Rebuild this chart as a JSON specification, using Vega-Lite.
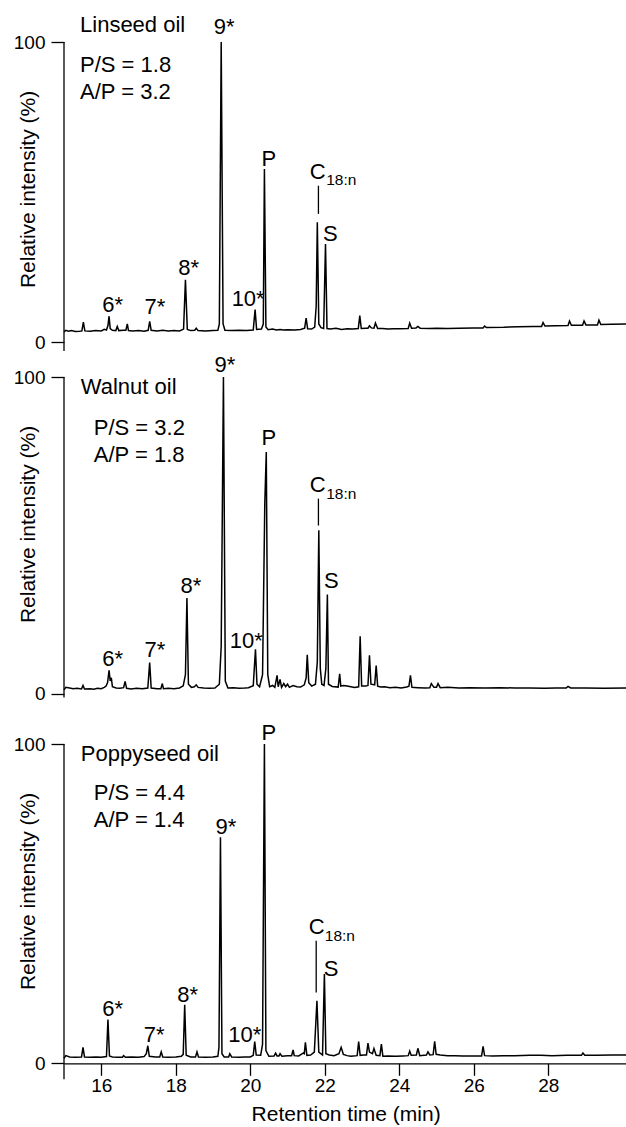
{
  "$schema": "https://vega.github.io/schema/vega-lite/v6.json",
  "padding": {"left": 13, "top": 14, "right": 0, "bottom": 3},
  "background": "white",
  "bounds": "flush",
  "spacing": 35,
  "config": {
    "font": "Liberation Sans",
    "view": {"stroke": null},
    "axis": {
      "domainColor": "black", "tickColor": "black", "labelColor": "black", "titleColor": "black",
      "grid": false, "labelFontSize": 19, "titleFontSize": 21, "titleFontWeight": "normal",
      "tickWidth": 1.3, "domainWidth": 1.3
    },
    "text": {"color": "black"}
  },
  "resolve": {"scale": {"y": "independent"}},
  "datasets": {
    "trace": [
      {"oil":"Linseed","t":15.00,"v":3.4},{"oil":"Linseed","t":15.05,"v":3.9},{"oil":"Linseed","t":15.12,"v":3.6},{"oil":"Linseed","t":15.2,"v":3.8},{"oil":"Linseed","t":15.3,"v":3.5},{"oil":"Linseed","t":15.42,"v":3.6},{"oil":"Linseed","t":15.48,"v":3.7},{"oil":"Linseed","t":15.52,"v":6.6},{"oil":"Linseed","t":15.56,"v":3.7},{"oil":"Linseed","t":15.7,"v":3.6},{"oil":"Linseed","t":15.85,"v":3.8},{"oil":"Linseed","t":16.0,"v":3.7},{"oil":"Linseed","t":16.08,"v":4.2},{"oil":"Linseed","t":16.14,"v":4.0},{"oil":"Linseed","t":16.18,"v":5.5},{"oil":"Linseed","t":16.21,"v":8.6},{"oil":"Linseed","t":16.24,"v":4.5},{"oil":"Linseed","t":16.3,"v":3.9},{"oil":"Linseed","t":16.39,"v":3.8},{"oil":"Linseed","t":16.43,"v":5.2},{"oil":"Linseed","t":16.47,"v":3.8},{"oil":"Linseed","t":16.6,"v":3.9},{"oil":"Linseed","t":16.66,"v":3.9},{"oil":"Linseed","t":16.70,"v":6.0},{"oil":"Linseed","t":16.73,"v":3.8},{"oil":"Linseed","t":16.85,"v":3.7},{"oil":"Linseed","t":17.0,"v":3.8},{"oil":"Linseed","t":17.15,"v":3.6},{"oil":"Linseed","t":17.26,"v":3.9},{"oil":"Linseed","t":17.30,"v":6.9},{"oil":"Linseed","t":17.34,"v":3.9},{"oil":"Linseed","t":17.5,"v":3.7},{"oil":"Linseed","t":17.65,"v":3.9},{"oil":"Linseed","t":17.8,"v":3.7},{"oil":"Linseed","t":17.95,"v":3.8},{"oil":"Linseed","t":18.1,"v":3.7},{"oil":"Linseed","t":18.21,"v":4.3},{"oil":"Linseed","t":18.26,"v":20.7},{"oil":"Linseed","t":18.31,"v":4.2},{"oil":"Linseed","t":18.4,"v":3.8},{"oil":"Linseed","t":18.51,"v":3.9},{"oil":"Linseed","t":18.55,"v":4.6},{"oil":"Linseed","t":18.6,"v":3.8},{"oil":"Linseed","t":18.8,"v":3.7},{"oil":"Linseed","t":19.0,"v":3.8},{"oil":"Linseed","t":19.13,"v":3.9},{"oil":"Linseed","t":19.17,"v":6.0},{"oil":"Linseed","t":19.22,"v":100},{"oil":"Linseed","t":19.27,"v":6.0},{"oil":"Linseed","t":19.32,"v":3.9},{"oil":"Linseed","t":19.5,"v":3.8},{"oil":"Linseed","t":19.7,"v":3.9},{"oil":"Linseed","t":19.9,"v":3.8},{"oil":"Linseed","t":20.08,"v":4.0},{"oil":"Linseed","t":20.13,"v":10.8},{"oil":"Linseed","t":20.17,"v":4.2},{"oil":"Linseed","t":20.3,"v":4.3},{"oil":"Linseed","t":20.35,"v":6.0},{"oil":"Linseed","t":20.38,"v":57.7},{"oil":"Linseed","t":20.42,"v":5.0},{"oil":"Linseed","t":20.48,"v":4.1},{"oil":"Linseed","t":20.6,"v":4.3},{"oil":"Linseed","t":20.7,"v":4.0},{"oil":"Linseed","t":20.8,"v":4.2},{"oil":"Linseed","t":20.9,"v":4.0},{"oil":"Linseed","t":21.0,"v":4.1},{"oil":"Linseed","t":21.2,"v":4.0},{"oil":"Linseed","t":21.35,"v":4.2},{"oil":"Linseed","t":21.46,"v":4.6},{"oil":"Linseed","t":21.50,"v":8.0},{"oil":"Linseed","t":21.54,"v":4.4},{"oil":"Linseed","t":21.65,"v":4.3},{"oil":"Linseed","t":21.73,"v":5.0},{"oil":"Linseed","t":21.77,"v":12.0},{"oil":"Linseed","t":21.80,"v":39.9},{"oil":"Linseed","t":21.84,"v":6.0},{"oil":"Linseed","t":21.9,"v":4.8},{"oil":"Linseed","t":21.97,"v":4.5},{"oil":"Linseed","t":22.02,"v":32.7},{"oil":"Linseed","t":22.06,"v":4.5},{"oil":"Linseed","t":22.15,"v":4.3},{"oil":"Linseed","t":22.3,"v":4.6},{"oil":"Linseed","t":22.45,"v":4.2},{"oil":"Linseed","t":22.6,"v":4.4},{"oil":"Linseed","t":22.75,"v":4.3},{"oil":"Linseed","t":22.9,"v":4.5},{"oil":"Linseed","t":22.94,"v":8.8},{"oil":"Linseed","t":22.98,"v":4.5},{"oil":"Linseed","t":23.1,"v":4.6},{"oil":"Linseed","t":23.16,"v":4.6},{"oil":"Linseed","t":23.2,"v":5.4},{"oil":"Linseed","t":23.25,"v":4.7},{"oil":"Linseed","t":23.32,"v":4.6},{"oil":"Linseed","t":23.36,"v":6.3},{"oil":"Linseed","t":23.42,"v":4.5},{"oil":"Linseed","t":23.55,"v":4.5},{"oil":"Linseed","t":23.7,"v":4.3},{"oil":"Linseed","t":23.85,"v":4.4},{"oil":"Linseed","t":24.0,"v":4.4},{"oil":"Linseed","t":24.24,"v":4.5},{"oil":"Linseed","t":24.28,"v":6.3},{"oil":"Linseed","t":24.33,"v":4.6},{"oil":"Linseed","t":24.45,"v":4.7},{"oil":"Linseed","t":24.5,"v":5.2},{"oil":"Linseed","t":24.56,"v":4.6},{"oil":"Linseed","t":24.8,"v":4.5},{"oil":"Linseed","t":25.0,"v":4.6},{"oil":"Linseed","t":25.3,"v":4.5},{"oil":"Linseed","t":25.6,"v":4.6},{"oil":"Linseed","t":26.0,"v":4.7},{"oil":"Linseed","t":26.25,"v":4.7},{"oil":"Linseed","t":26.29,"v":5.3},{"oil":"Linseed","t":26.34,"v":4.8},{"oil":"Linseed","t":26.8,"v":4.9},{"oil":"Linseed","t":27.2,"v":5.1},{"oil":"Linseed","t":27.6,"v":5.2},{"oil":"Linseed","t":27.82,"v":5.2},{"oil":"Linseed","t":27.86,"v":6.5},{"oil":"Linseed","t":27.91,"v":5.3},{"oil":"Linseed","t":28.2,"v":5.4},{"oil":"Linseed","t":28.53,"v":5.5},{"oil":"Linseed","t":28.57,"v":7.0},{"oil":"Linseed","t":28.62,"v":5.6},{"oil":"Linseed","t":28.92,"v":5.6},{"oil":"Linseed","t":28.96,"v":7.0},{"oil":"Linseed","t":29.01,"v":5.7},{"oil":"Linseed","t":29.32,"v":5.7},{"oil":"Linseed","t":29.36,"v":7.3},{"oil":"Linseed","t":29.41,"v":5.8},{"oil":"Linseed","t":29.7,"v":5.9},{"oil":"Linseed","t":30.12,"v":6.0},

      {"oil":"Walnut","t":15.0,"v":1.2},{"oil":"Walnut","t":15.05,"v":2.0},{"oil":"Walnut","t":15.15,"v":1.8},{"oil":"Walnut","t":15.25,"v":1.6},{"oil":"Walnut","t":15.35,"v":1.7},{"oil":"Walnut","t":15.47,"v":1.5},{"oil":"Walnut","t":15.51,"v":2.6},{"oil":"Walnut","t":15.55,"v":1.5},{"oil":"Walnut","t":15.7,"v":1.6},{"oil":"Walnut","t":15.8,"v":1.4},{"oil":"Walnut","t":15.9,"v":1.7},{"oil":"Walnut","t":16.0,"v":1.6},{"oil":"Walnut","t":16.08,"v":2.0},{"oil":"Walnut","t":16.13,"v":2.4},{"oil":"Walnut","t":16.17,"v":3.5},{"oil":"Walnut","t":16.21,"v":7.4},{"oil":"Walnut","t":16.24,"v":4.0},{"oil":"Walnut","t":16.27,"v":5.0},{"oil":"Walnut","t":16.3,"v":2.2},{"oil":"Walnut","t":16.4,"v":1.8},{"oil":"Walnut","t":16.5,"v":1.7},{"oil":"Walnut","t":16.6,"v":1.9},{"oil":"Walnut","t":16.64,"v":3.9},{"oil":"Walnut","t":16.68,"v":1.7},{"oil":"Walnut","t":16.8,"v":1.5},{"oil":"Walnut","t":16.95,"v":1.7},{"oil":"Walnut","t":17.1,"v":1.6},{"oil":"Walnut","t":17.25,"v":1.8},{"oil":"Walnut","t":17.30,"v":9.8},{"oil":"Walnut","t":17.34,"v":1.8},{"oil":"Walnut","t":17.5,"v":1.6},{"oil":"Walnut","t":17.6,"v":1.6},{"oil":"Walnut","t":17.64,"v":3.2},{"oil":"Walnut","t":17.67,"v":1.6},{"oil":"Walnut","t":17.8,"v":1.7},{"oil":"Walnut","t":17.95,"v":1.6},{"oil":"Walnut","t":18.1,"v":1.8},{"oil":"Walnut","t":18.2,"v":2.5},{"oil":"Walnut","t":18.26,"v":6.0},{"oil":"Walnut","t":18.30,"v":30.2},{"oil":"Walnut","t":18.34,"v":3.0},{"oil":"Walnut","t":18.42,"v":2.0},{"oil":"Walnut","t":18.5,"v":2.2},{"oil":"Walnut","t":18.55,"v":2.8},{"oil":"Walnut","t":18.6,"v":2.0},{"oil":"Walnut","t":18.75,"v":1.8},{"oil":"Walnut","t":18.9,"v":1.7},{"oil":"Walnut","t":19.05,"v":1.8},{"oil":"Walnut","t":19.17,"v":3.0},{"oil":"Walnut","t":19.22,"v":15.0},{"oil":"Walnut","t":19.28,"v":100},{"oil":"Walnut","t":19.33,"v":4.0},{"oil":"Walnut","t":19.4,"v":1.8},{"oil":"Walnut","t":19.55,"v":1.9},{"oil":"Walnut","t":19.7,"v":1.7},{"oil":"Walnut","t":19.85,"v":1.8},{"oil":"Walnut","t":19.95,"v":1.9},{"oil":"Walnut","t":20.08,"v":2.5},{"oil":"Walnut","t":20.14,"v":14.0},{"oil":"Walnut","t":20.18,"v":3.0},{"oil":"Walnut","t":20.25,"v":2.2},{"oil":"Walnut","t":20.33,"v":6.0},{"oil":"Walnut","t":20.39,"v":60.0},{"oil":"Walnut","t":20.43,"v":76.3},{"oil":"Walnut","t":20.47,"v":6.0},{"oil":"Walnut","t":20.52,"v":2.2},{"oil":"Walnut","t":20.6,"v":2.6},{"oil":"Walnut","t":20.66,"v":2.0},{"oil":"Walnut","t":20.72,"v":5.8},{"oil":"Walnut","t":20.75,"v":2.2},{"oil":"Walnut","t":20.8,"v":4.5},{"oil":"Walnut","t":20.84,"v":2.0},{"oil":"Walnut","t":20.9,"v":3.2},{"oil":"Walnut","t":20.95,"v":2.2},{"oil":"Walnut","t":21.0,"v":3.0},{"oil":"Walnut","t":21.05,"v":2.0},{"oil":"Walnut","t":21.15,"v":2.6},{"oil":"Walnut","t":21.25,"v":2.2},{"oil":"Walnut","t":21.35,"v":2.1},{"oil":"Walnut","t":21.45,"v":2.8},{"oil":"Walnut","t":21.5,"v":5.0},{"oil":"Walnut","t":21.53,"v":12.3},{"oil":"Walnut","t":21.57,"v":3.5},{"oil":"Walnut","t":21.65,"v":2.4},{"oil":"Walnut","t":21.75,"v":3.0},{"oil":"Walnut","t":21.8,"v":10.0},{"oil":"Walnut","t":21.84,"v":51.6},{"oil":"Walnut","t":21.88,"v":8.0},{"oil":"Walnut","t":21.92,"v":3.0},{"oil":"Walnut","t":21.98,"v":2.6},{"oil":"Walnut","t":22.03,"v":8.0},{"oil":"Walnut","t":22.07,"v":31.3},{"oil":"Walnut","t":22.1,"v":3.0},{"oil":"Walnut","t":22.2,"v":2.3},{"oil":"Walnut","t":22.36,"v":2.1},{"oil":"Walnut","t":22.40,"v":6.3},{"oil":"Walnut","t":22.43,"v":2.4},{"oil":"Walnut","t":22.5,"v":2.6},{"oil":"Walnut","t":22.6,"v":2.4},{"oil":"Walnut","t":22.7,"v":2.2},{"oil":"Walnut","t":22.8,"v":2.0},{"oil":"Walnut","t":22.91,"v":2.2},{"oil":"Walnut","t":22.95,"v":18.1},{"oil":"Walnut","t":22.99,"v":2.4},{"oil":"Walnut","t":23.1,"v":2.4},{"oil":"Walnut","t":23.16,"v":2.6},{"oil":"Walnut","t":23.2,"v":12.1},{"oil":"Walnut","t":23.24,"v":3.0},{"oil":"Walnut","t":23.34,"v":2.8},{"oil":"Walnut","t":23.38,"v":8.9},{"oil":"Walnut","t":23.42,"v":2.4},{"oil":"Walnut","t":23.5,"v":2.1},{"oil":"Walnut","t":23.6,"v":2.2},{"oil":"Walnut","t":23.75,"v":1.9},{"oil":"Walnut","t":23.9,"v":2.0},{"oil":"Walnut","t":24.05,"v":1.8},{"oil":"Walnut","t":24.2,"v":2.1},{"oil":"Walnut","t":24.26,"v":2.4},{"oil":"Walnut","t":24.30,"v":5.8},{"oil":"Walnut","t":24.34,"v":2.0},{"oil":"Walnut","t":24.5,"v":1.9},{"oil":"Walnut","t":24.7,"v":1.8},{"oil":"Walnut","t":24.82,"v":1.9},{"oil":"Walnut","t":24.86,"v":3.2},{"oil":"Walnut","t":24.93,"v":2.0},{"oil":"Walnut","t":25.0,"v":2.0},{"oil":"Walnut","t":25.04,"v":3.2},{"oil":"Walnut","t":25.1,"v":1.9},{"oil":"Walnut","t":25.3,"v":2.0},{"oil":"Walnut","t":25.6,"v":1.8},{"oil":"Walnut","t":25.9,"v":1.9},{"oil":"Walnut","t":26.3,"v":1.8},{"oil":"Walnut","t":26.7,"v":1.9},{"oil":"Walnut","t":27.1,"v":1.8},{"oil":"Walnut","t":27.5,"v":1.8},{"oil":"Walnut","t":27.9,"v":1.7},{"oil":"Walnut","t":28.2,"v":1.8},{"oil":"Walnut","t":28.48,"v":1.8},{"oil":"Walnut","t":28.53,"v":2.3},{"oil":"Walnut","t":28.6,"v":1.8},{"oil":"Walnut","t":29.0,"v":1.8},{"oil":"Walnut","t":29.5,"v":1.7},{"oil":"Walnut","t":30.12,"v":1.8},

      {"oil":"Poppyseed","t":15.0,"v":1.6},{"oil":"Poppyseed","t":15.05,"v":2.4},{"oil":"Poppyseed","t":15.15,"v":2.0},{"oil":"Poppyseed","t":15.3,"v":1.9},{"oil":"Poppyseed","t":15.47,"v":2.0},{"oil":"Poppyseed","t":15.51,"v":5.0},{"oil":"Poppyseed","t":15.55,"v":2.0},{"oil":"Poppyseed","t":15.7,"v":1.9},{"oil":"Poppyseed","t":15.85,"v":2.0},{"oil":"Poppyseed","t":16.0,"v":1.9},{"oil":"Poppyseed","t":16.14,"v":2.1},{"oil":"Poppyseed","t":16.18,"v":13.7},{"oil":"Poppyseed","t":16.22,"v":2.3},{"oil":"Poppyseed","t":16.3,"v":2.0},{"oil":"Poppyseed","t":16.45,"v":1.9},{"oil":"Poppyseed","t":16.57,"v":1.9},{"oil":"Poppyseed","t":16.6,"v":2.4},{"oil":"Poppyseed","t":16.65,"v":1.9},{"oil":"Poppyseed","t":16.8,"v":2.0},{"oil":"Poppyseed","t":17.0,"v":1.9},{"oil":"Poppyseed","t":17.15,"v":2.1},{"oil":"Poppyseed","t":17.21,"v":3.0},{"oil":"Poppyseed","t":17.25,"v":5.5},{"oil":"Poppyseed","t":17.29,"v":2.2},{"oil":"Poppyseed","t":17.45,"v":2.0},{"oil":"Poppyseed","t":17.57,"v":2.0},{"oil":"Poppyseed","t":17.61,"v":3.6},{"oil":"Poppyseed","t":17.65,"v":2.0},{"oil":"Poppyseed","t":17.8,"v":1.9},{"oil":"Poppyseed","t":18.0,"v":2.0},{"oil":"Poppyseed","t":18.15,"v":2.2},{"oil":"Poppyseed","t":18.2,"v":2.8},{"oil":"Poppyseed","t":18.24,"v":18.3},{"oil":"Poppyseed","t":18.28,"v":2.5},{"oil":"Poppyseed","t":18.4,"v":2.0},{"oil":"Poppyseed","t":18.53,"v":2.0},{"oil":"Poppyseed","t":18.57,"v":3.6},{"oil":"Poppyseed","t":18.61,"v":2.0},{"oil":"Poppyseed","t":18.8,"v":1.9},{"oil":"Poppyseed","t":19.0,"v":2.0},{"oil":"Poppyseed","t":19.13,"v":2.2},{"oil":"Poppyseed","t":19.16,"v":5.0},{"oil":"Poppyseed","t":19.20,"v":70.8},{"oil":"Poppyseed","t":19.24,"v":3.0},{"oil":"Poppyseed","t":19.3,"v":2.0},{"oil":"Poppyseed","t":19.42,"v":2.0},{"oil":"Poppyseed","t":19.45,"v":3.0},{"oil":"Poppyseed","t":19.5,"v":2.0},{"oil":"Poppyseed","t":19.7,"v":1.9},{"oil":"Poppyseed","t":19.85,"v":2.0},{"oil":"Poppyseed","t":20.0,"v":2.0},{"oil":"Poppyseed","t":20.08,"v":2.5},{"oil":"Poppyseed","t":20.12,"v":6.8},{"oil":"Poppyseed","t":20.16,"v":2.6},{"oil":"Poppyseed","t":20.28,"v":2.5},{"oil":"Poppyseed","t":20.33,"v":6.0},{"oil":"Poppyseed","t":20.38,"v":100},{"oil":"Poppyseed","t":20.42,"v":4.0},{"oil":"Poppyseed","t":20.5,"v":2.2},{"oil":"Poppyseed","t":20.64,"v":2.3},{"oil":"Poppyseed","t":20.68,"v":3.2},{"oil":"Poppyseed","t":20.72,"v":2.3},{"oil":"Poppyseed","t":20.77,"v":2.3},{"oil":"Poppyseed","t":20.8,"v":3.0},{"oil":"Poppyseed","t":20.85,"v":2.2},{"oil":"Poppyseed","t":21.0,"v":2.4},{"oil":"Poppyseed","t":21.11,"v":2.4},{"oil":"Poppyseed","t":21.15,"v":4.2},{"oil":"Poppyseed","t":21.18,"v":2.4},{"oil":"Poppyseed","t":21.3,"v":2.3},{"oil":"Poppyseed","t":21.42,"v":3.2},{"oil":"Poppyseed","t":21.45,"v":3.0},{"oil":"Poppyseed","t":21.48,"v":6.6},{"oil":"Poppyseed","t":21.52,"v":2.5},{"oil":"Poppyseed","t":21.62,"v":2.6},{"oil":"Poppyseed","t":21.72,"v":3.5},{"oil":"Poppyseed","t":21.79,"v":19.6},{"oil":"Poppyseed","t":21.84,"v":3.5},{"oil":"Poppyseed","t":21.94,"v":2.6},{"oil":"Poppyseed","t":21.99,"v":28.0},{"oil":"Poppyseed","t":22.03,"v":3.0},{"oil":"Poppyseed","t":22.12,"v":2.6},{"oil":"Poppyseed","t":22.25,"v":2.4},{"oil":"Poppyseed","t":22.38,"v":3.0},{"oil":"Poppyseed","t":22.44,"v":5.0},{"oil":"Poppyseed","t":22.5,"v":2.8},{"oil":"Poppyseed","t":22.6,"v":2.4},{"oil":"Poppyseed","t":22.7,"v":2.2},{"oil":"Poppyseed","t":22.87,"v":2.4},{"oil":"Poppyseed","t":22.91,"v":6.8},{"oil":"Poppyseed","t":22.95,"v":2.5},{"oil":"Poppyseed","t":23.05,"v":2.6},{"oil":"Poppyseed","t":23.12,"v":2.6},{"oil":"Poppyseed","t":23.16,"v":6.3},{"oil":"Poppyseed","t":23.2,"v":3.5},{"oil":"Poppyseed","t":23.28,"v":3.0},{"oil":"Poppyseed","t":23.32,"v":4.6},{"oil":"Poppyseed","t":23.38,"v":2.5},{"oil":"Poppyseed","t":23.48,"v":2.4},{"oil":"Poppyseed","t":23.52,"v":6.0},{"oil":"Poppyseed","t":23.56,"v":2.2},{"oil":"Poppyseed","t":23.7,"v":2.3},{"oil":"Poppyseed","t":23.9,"v":2.2},{"oil":"Poppyseed","t":24.1,"v":2.3},{"oil":"Poppyseed","t":24.24,"v":2.4},{"oil":"Poppyseed","t":24.28,"v":3.8},{"oil":"Poppyseed","t":24.32,"v":2.5},{"oil":"Poppyseed","t":24.46,"v":2.6},{"oil":"Poppyseed","t":24.50,"v":4.7},{"oil":"Poppyseed","t":24.55,"v":2.4},{"oil":"Poppyseed","t":24.73,"v":2.6},{"oil":"Poppyseed","t":24.77,"v":3.6},{"oil":"Poppyseed","t":24.82,"v":2.6},{"oil":"Poppyseed","t":24.91,"v":2.7},{"oil":"Poppyseed","t":24.95,"v":6.9},{"oil":"Poppyseed","t":24.99,"v":2.8},{"oil":"Poppyseed","t":25.1,"v":2.6},{"oil":"Poppyseed","t":25.3,"v":2.4},{"oil":"Poppyseed","t":25.5,"v":2.4},{"oil":"Poppyseed","t":25.7,"v":2.3},{"oil":"Poppyseed","t":25.9,"v":2.3},{"oil":"Poppyseed","t":26.21,"v":2.3},{"oil":"Poppyseed","t":26.25,"v":5.3},{"oil":"Poppyseed","t":26.29,"v":2.4},{"oil":"Poppyseed","t":26.5,"v":2.3},{"oil":"Poppyseed","t":26.8,"v":2.4},{"oil":"Poppyseed","t":27.1,"v":2.4},{"oil":"Poppyseed","t":27.5,"v":2.5},{"oil":"Poppyseed","t":27.8,"v":2.5},{"oil":"Poppyseed","t":28.1,"v":2.4},{"oil":"Poppyseed","t":28.5,"v":2.5},{"oil":"Poppyseed","t":28.89,"v":2.5},{"oil":"Poppyseed","t":28.93,"v":3.2},{"oil":"Poppyseed","t":28.98,"v":2.5},{"oil":"Poppyseed","t":29.3,"v":2.5},{"oil":"Poppyseed","t":29.7,"v":2.6},{"oil":"Poppyseed","t":30.12,"v":2.6}
    ],
    "notes": [
      {"oil":"Linseed","kind":"main","label":"Linseed oil","t":15.43,"v":103.2},
      {"oil":"Linseed","kind":"main","label":"P/S = 1.8","t":15.43,"v":89.9},
      {"oil":"Linseed","kind":"main","label":"A/P = 3.2","t":15.43,"v":81.0},
      {"oil":"Linseed","kind":"main","label":"9*","t":19.02,"v":102.7},
      {"oil":"Linseed","kind":"main","label":"P","t":20.30,"v":58.8},
      {"oil":"Linseed","kind":"main","label":"C","t":21.60,"v":54.3},
      {"oil":"Linseed","kind":"sub","label":"18:n","t":22.04,"v":52.3},
      {"oil":"Linseed","kind":"main","label":"S","t":21.95,"v":33.8},
      {"oil":"Linseed","kind":"main","label":"6*","t":16.03,"v":9.9},
      {"oil":"Linseed","kind":"main","label":"7*","t":17.16,"v":9.3},
      {"oil":"Linseed","kind":"main","label":"8*","t":18.07,"v":22.3},
      {"oil":"Linseed","kind":"main","label":"10*","t":19.50,"v":12.1},

      {"oil":"Walnut","kind":"main","label":"Walnut oil","t":15.45,"v":94.6},
      {"oil":"Walnut","kind":"main","label":"P/S = 3.2","t":15.80,"v":81.6},
      {"oil":"Walnut","kind":"main","label":"A/P = 1.8","t":15.80,"v":73.2},
      {"oil":"Walnut","kind":"main","label":"9*","t":19.04,"v":101.7},
      {"oil":"Walnut","kind":"main","label":"P","t":20.30,"v":78.4},
      {"oil":"Walnut","kind":"main","label":"C","t":21.60,"v":63.7},
      {"oil":"Walnut","kind":"sub","label":"18:n","t":22.04,"v":61.6},
      {"oil":"Walnut","kind":"main","label":"S","t":21.98,"v":33.4},
      {"oil":"Walnut","kind":"main","label":"6*","t":16.03,"v":8.7},
      {"oil":"Walnut","kind":"main","label":"7*","t":17.16,"v":11.6},
      {"oil":"Walnut","kind":"main","label":"8*","t":18.13,"v":31.8},
      {"oil":"Walnut","kind":"main","label":"10*","t":19.45,"v":14.4},

      {"oil":"Poppyseed","kind":"main","label":"Poppyseed oil","t":15.45,"v":94.8},
      {"oil":"Poppyseed","kind":"main","label":"P/S = 4.4","t":15.80,"v":82.5},
      {"oil":"Poppyseed","kind":"main","label":"A/P = 1.4","t":15.80,"v":74.1},
      {"oil":"Poppyseed","kind":"main","label":"9*","t":19.07,"v":71.8},
      {"oil":"Poppyseed","kind":"main","label":"P","t":20.30,"v":101.3},
      {"oil":"Poppyseed","kind":"main","label":"C","t":21.57,"v":40.5},
      {"oil":"Poppyseed","kind":"sub","label":"18:n","t":22.0,"v":38.4},
      {"oil":"Poppyseed","kind":"main","label":"S","t":21.97,"v":27.2},
      {"oil":"Poppyseed","kind":"main","label":"6*","t":16.03,"v":14.9},
      {"oil":"Poppyseed","kind":"main","label":"7*","t":17.14,"v":6.6},
      {"oil":"Poppyseed","kind":"main","label":"8*","t":18.04,"v":19.1},
      {"oil":"Poppyseed","kind":"main","label":"10*","t":19.41,"v":6.6}
    ],
    "markers": [
      {"oil":"Linseed","t":21.83,"lo":42.7,"hi":52.1},
      {"oil":"Walnut","t":21.83,"lo":53.1,"hi":61.6},
      {"oil":"Poppyseed","t":21.77,"lo":22.2,"hi":38.4}
    ],
    "frames": [
      {"oil":"Linseed","t":15,"lo":-3,"hi":100},
      {"oil":"Walnut","t":15,"lo":-1.2,"hi":100},
      {"oil":"Poppyseed","t":15,"lo":-5,"hi":100}
    ]
  },
  "vconcat": [
    {
      "width": 563.25, "height": 300,
      "layer": [
        {"data": {"name": "frames"}, "transform": [{"filter": "datum.oil === 'Linseed'"}],
         "mark": {"type": "rule", "color": "black", "strokeWidth": 1.3},
         "encoding": {"x": {"field": "t", "type": "quantitative", "scale": {"domain": [15, 30.12], "nice": false, "zero": false}, "axis": null},
                      "y": {"field": "lo", "type": "quantitative", "scale": {"domain": [0, 100], "nice": false},
                            "axis": {"values": [0, 100], "domain": false, "tickSize": 13, "labelPadding": 6, "title": "Relative intensity (%)", "titleX": -36, "titleY": 147, "titleBaseline": "middle"}},
                      "y2": {"field": "hi"}}},
        {"data": {"name": "trace"}, "transform": [{"filter": "datum.oil === 'Linseed'"}],
         "mark": {"type": "line", "color": "black", "strokeWidth": 1.5},
         "encoding": {"x": {"field": "t", "type": "quantitative"}, "y": {"field": "v", "type": "quantitative"}}},
        {"data": {"name": "markers"}, "transform": [{"filter": "datum.oil === 'Linseed'"}],
         "mark": {"type": "rule", "color": "black", "strokeWidth": 1.3},
         "encoding": {"x": {"field": "t", "type": "quantitative"}, "y": {"field": "lo", "type": "quantitative"}, "y2": {"field": "hi"}}},
        {"data": {"name": "notes"}, "transform": [{"filter": "datum.oil === 'Linseed' && datum.kind === 'main'"}],
         "mark": {"type": "text", "align": "left", "baseline": "alphabetic", "fontSize": 22},
         "encoding": {"x": {"field": "t", "type": "quantitative"}, "y": {"field": "v", "type": "quantitative"}, "text": {"field": "label"}}},
        {"data": {"name": "notes"}, "transform": [{"filter": "datum.oil === 'Linseed' && datum.kind === 'sub'"}],
         "mark": {"type": "text", "align": "left", "baseline": "alphabetic", "fontSize": 15.5},
         "encoding": {"x": {"field": "t", "type": "quantitative"}, "y": {"field": "v", "type": "quantitative"}, "text": {"field": "label"}}}
      ]
    },
    {
      "width": 563.25, "height": 331.4,
      "layer": [
        {"data": {"name": "frames"}, "transform": [{"filter": "datum.oil === 'Walnut'"}],
         "mark": {"type": "rule", "color": "black", "strokeWidth": 1.3},
         "encoding": {"x": {"field": "t", "type": "quantitative", "scale": {"domain": [15, 30.12], "nice": false, "zero": false}, "axis": null},
                      "y": {"field": "lo", "type": "quantitative", "scale": {"domain": [-4.64, 100], "nice": false, "zero": false},
                            "axis": {"values": [0, 100], "domain": false, "tickSize": 13, "labelPadding": 6, "title": "Relative intensity (%)", "titleX": -36, "titleY": 147, "titleBaseline": "middle"}},
                      "y2": {"field": "hi"}}},
        {"data": {"name": "trace"}, "transform": [{"filter": "datum.oil === 'Walnut'"}],
         "mark": {"type": "line", "color": "black", "strokeWidth": 1.5},
         "encoding": {"x": {"field": "t", "type": "quantitative"}, "y": {"field": "v", "type": "quantitative"}}},
        {"data": {"name": "markers"}, "transform": [{"filter": "datum.oil === 'Walnut'"}],
         "mark": {"type": "rule", "color": "black", "strokeWidth": 1.3},
         "encoding": {"x": {"field": "t", "type": "quantitative"}, "y": {"field": "lo", "type": "quantitative"}, "y2": {"field": "hi"}}},
        {"data": {"name": "notes"}, "transform": [{"filter": "datum.oil === 'Walnut' && datum.kind === 'main'"}],
         "mark": {"type": "text", "align": "left", "baseline": "alphabetic", "fontSize": 22},
         "encoding": {"x": {"field": "t", "type": "quantitative"}, "y": {"field": "v", "type": "quantitative"}, "text": {"field": "label"}}},
        {"data": {"name": "notes"}, "transform": [{"filter": "datum.oil === 'Walnut' && datum.kind === 'sub'"}],
         "mark": {"type": "text", "align": "left", "baseline": "alphabetic", "fontSize": 15.5},
         "encoding": {"x": {"field": "t", "type": "quantitative"}, "y": {"field": "v", "type": "quantitative"}, "text": {"field": "label"}}}
      ]
    },
    {
      "width": 563.25, "height": 319.3,
      "layer": [
        {"data": {"name": "frames"}, "transform": [{"filter": "datum.oil === 'Poppyseed'"}],
         "mark": {"type": "rule", "color": "black", "strokeWidth": 1.3},
         "encoding": {"x": {"field": "t", "type": "quantitative", "scale": {"domain": [15, 30.12], "nice": false, "zero": false},
                            "axis": {"values": [16, 18, 20, 22, 24, 26, 28], "tickSize": 12, "labelPadding": 1, "title": "Retention time (min)", "titlePadding": 8}},
                      "y": {"field": "lo", "type": "quantitative", "scale": {"domain": [0, 100], "nice": false},
                            "axis": {"values": [0, 100], "domain": false, "tickSize": 13, "labelPadding": 6, "title": "Relative intensity (%)", "titleX": -36, "titleY": 147, "titleBaseline": "middle"}},
                      "y2": {"field": "hi"}}},
        {"data": {"name": "trace"}, "transform": [{"filter": "datum.oil === 'Poppyseed'"}],
         "mark": {"type": "line", "color": "black", "strokeWidth": 1.5},
         "encoding": {"x": {"field": "t", "type": "quantitative"}, "y": {"field": "v", "type": "quantitative"}}},
        {"data": {"name": "markers"}, "transform": [{"filter": "datum.oil === 'Poppyseed'"}],
         "mark": {"type": "rule", "color": "black", "strokeWidth": 1.3},
         "encoding": {"x": {"field": "t", "type": "quantitative"}, "y": {"field": "lo", "type": "quantitative"}, "y2": {"field": "hi"}}},
        {"data": {"name": "notes"}, "transform": [{"filter": "datum.oil === 'Poppyseed' && datum.kind === 'main'"}],
         "mark": {"type": "text", "align": "left", "baseline": "alphabetic", "fontSize": 22},
         "encoding": {"x": {"field": "t", "type": "quantitative"}, "y": {"field": "v", "type": "quantitative"}, "text": {"field": "label"}}},
        {"data": {"name": "notes"}, "transform": [{"filter": "datum.oil === 'Poppyseed' && datum.kind === 'sub'"}],
         "mark": {"type": "text", "align": "left", "baseline": "alphabetic", "fontSize": 15.5},
         "encoding": {"x": {"field": "t", "type": "quantitative"}, "y": {"field": "v", "type": "quantitative"}, "text": {"field": "label"}}}
      ]
    }
  ]
}
